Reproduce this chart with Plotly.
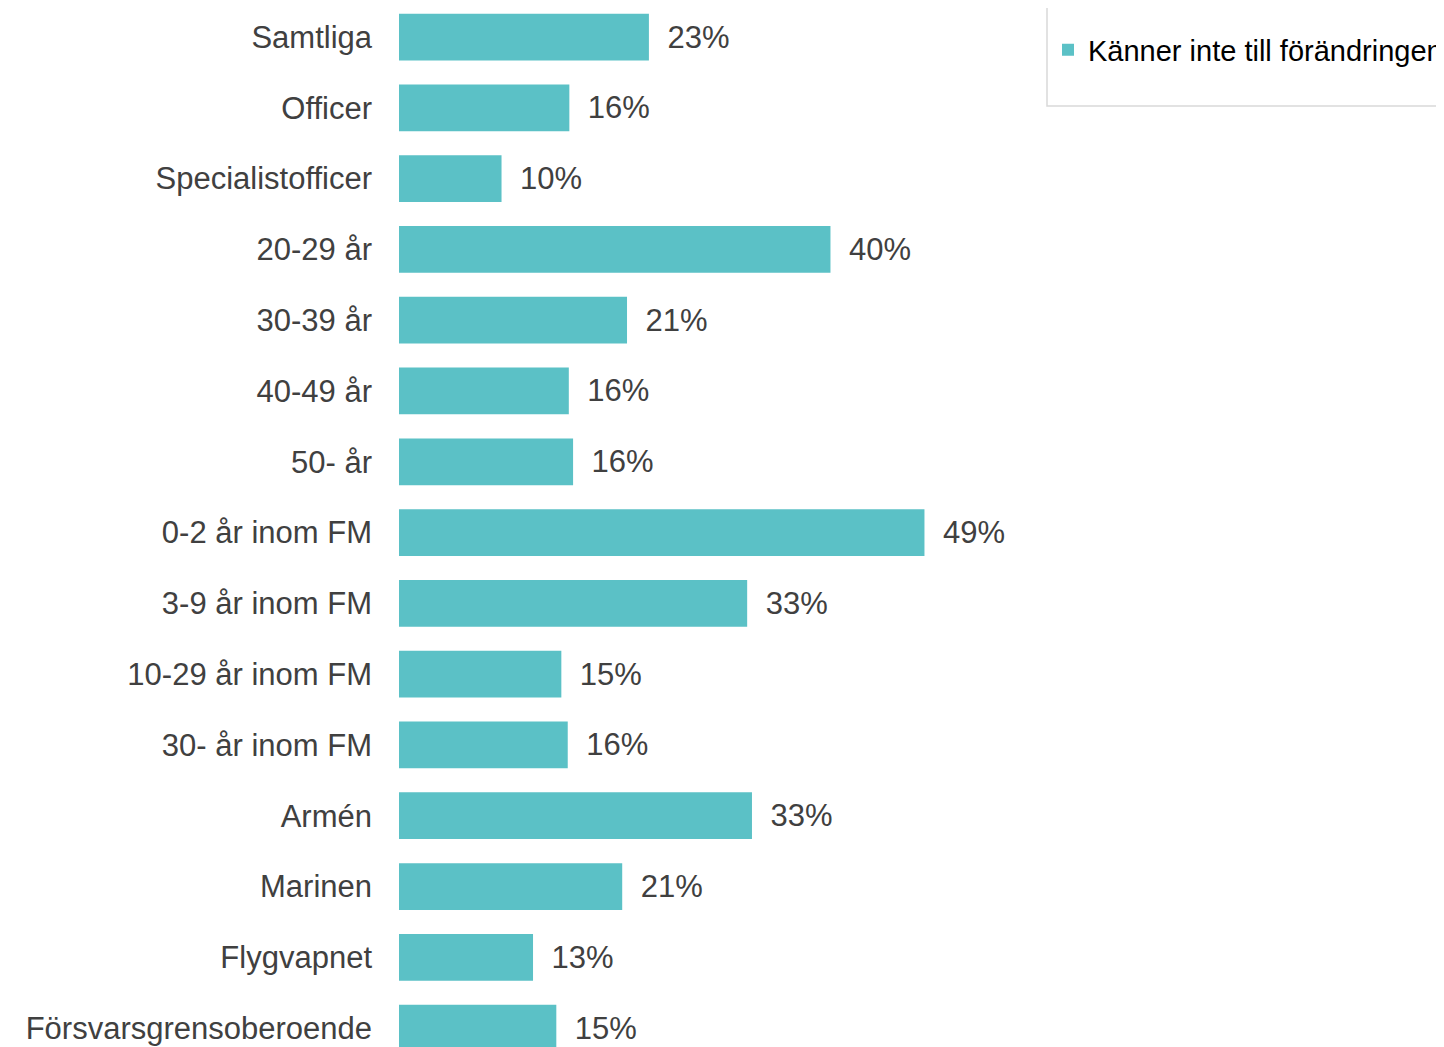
import plotly.graph_objects as go

# Data
categories = ["Samtliga", "Officer", "Specialistofficer", "20-29 år", "30-39 år",
              "40-49 år", "50- år", "0-2 år inom FM", "3-9 år inom FM",
              "10-29 år inom FM", "30- år inom FM", "Armén", "Marinen",
              "Flygvapnet", "Försvarsgrensoberoende"]
values = [23.4, 15.95, 9.6, 40.4, 21.35, 15.9, 16.3, 49.2, 32.6, 15.2,
          15.8, 33.05, 20.9, 12.55, 14.73]
series_name = "Känner inte till förändringen"

bar_color = "#5BC1C6"
text_color = "#404040"

W, H = 1444, 1047
off = 8  # page body margin
left, right = 399 - off, 0
plot_w = W - left - right

# screen pixel -> paper coords
def px_x(p):
    return (p - off - left) / plot_w

def px_y(p):
    return 1 - (p - off) / H

fig = go.Figure()
fig.add_trace(go.Bar(
    y=categories, x=values, orientation="h",
    marker=dict(color=bar_color, line=dict(width=0)),
    name=series_name,
    texttemplate="\u2002%{x:.0f}%",
    textposition="outside",
    textfont=dict(family="Liberation Sans, Arial", size=31, color=text_color),
    cliponaxis=False,
    showlegend=True,
))

# legend frame (top edge sits outside the picture)
fig.add_shape(type="rect", xref="paper", yref="paper",
              x0=px_x(1047), x1=px_x(1470), y0=px_y(106), y1=px_y(-20),
              line=dict(color="#d9d9d9", width=1.5), fillcolor="rgba(0,0,0,0)")

fig.update_layout(
    width=W, height=H,
    margin=dict(l=left, r=right, t=0, b=0, autoexpand=False),
    plot_bgcolor="white", paper_bgcolor="white",
    bargap=0.34,
    font=dict(family="Liberation Sans, Arial", color=text_color),
    legend=dict(x=px_x(1048), xanchor="left", y=px_y(50), yanchor="middle",
                font=dict(size=29, color="#000000"),
                bgcolor="rgba(0,0,0,0)", borderwidth=0),
    xaxis=dict(range=[0, plot_w / 10.68], visible=False, showgrid=False,
               zeroline=False),
    yaxis=dict(categoryorder="array", categoryarray=categories,
               range=[14.38, -0.41], showgrid=False, zeroline=False,
               showline=False, ticks="", ticklabelstandoff=26,
               tickfont=dict(size=31, color=text_color)),
)

fig.write_html("out.html")
